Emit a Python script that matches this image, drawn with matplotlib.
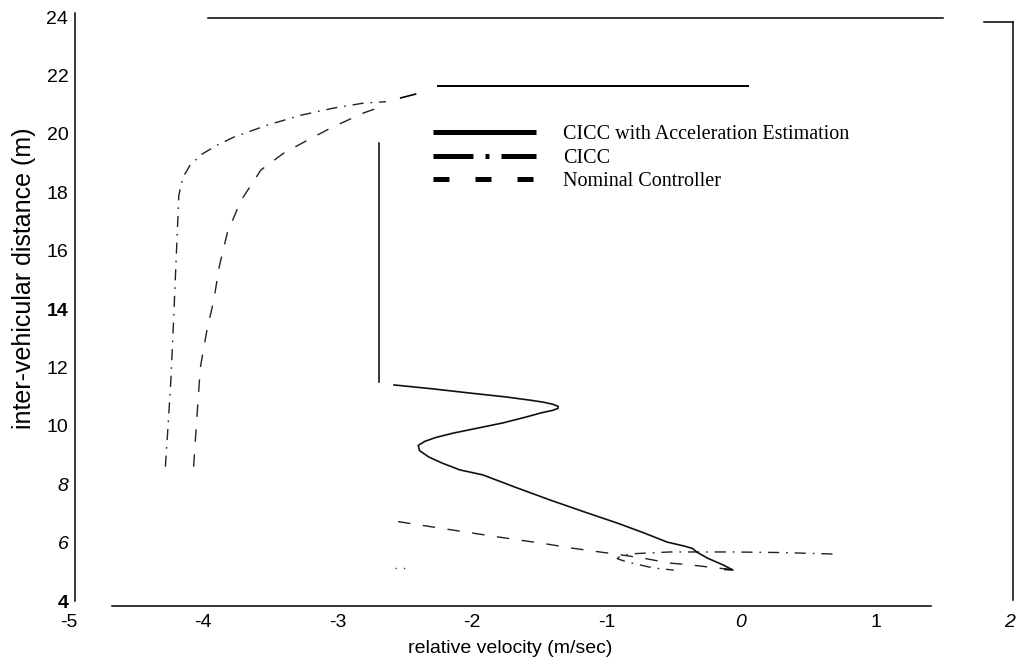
import matplotlib
matplotlib.use('Agg')
import matplotlib.pyplot as plt
from matplotlib.lines import Line2D

SANS = ['Liberation Sans', 'DejaVu Sans']
NARROW = ['Liberation Sans Narrow', 'Liberation Sans', 'DejaVu Sans']
SERIF = ['Liberation Serif', 'DejaVu Serif']

# phase-plane trajectories: relative velocity (m/sec) vs inter-vehicular distance (m)
acc_est_v = [-2.58, -2.30, -2.01, -1.75, -1.57, -1.47, -1.40, -1.36, -1.36, -1.40,
             -1.48, -1.60, -1.77, -1.96, -2.14, -2.27, -2.35, -2.40, -2.39, -2.32,
             -2.22, -2.09, -1.92, -1.68, -1.42, -1.17, -0.92, -0.72, -0.55, -0.42,
             -0.36, -0.33, -0.25, -0.13, -0.06, -0.12]
acc_est_d = [11.40, 11.27, 11.12, 10.99, 10.88, 10.81, 10.74, 10.67, 10.60, 10.53,
             10.45, 10.30, 10.10, 9.92, 9.75, 9.60, 9.47, 9.33, 9.15, 8.93,
             8.72, 8.49, 8.32, 7.90, 7.46, 7.06, 6.67, 6.33, 6.02, 5.88,
             5.80, 5.68, 5.47, 5.23, 5.06, 5.08]

cicc_v = [-4.28, -4.26, -4.24, -4.22, -4.20, -4.18, -4.15, -4.10, -4.02, -3.90,
          -3.77, -3.52, -3.27, -3.03, -2.81, -2.64]
cicc_d = [8.60, 10.0, 11.5, 13.5, 15.7, 17.9, 18.5, 18.9, 19.27, 19.60,
          19.89, 20.30, 20.64, 20.88, 21.05, 21.10]
cicc_tail_v = [0.68, 0.30, -0.06, -0.53, -0.80, -0.90, -0.92, -0.85, -0.65, -0.50]
cicc_tail_d = [5.61, 5.66, 5.68, 5.68, 5.62, 5.54, 5.45, 5.34, 5.13, 5.06]
cicc_frag_v = [-2.57, -2.50]
cicc_frag_d = [5.13, 5.13]

nominal_v = [-4.07, -4.05, -4.02, -3.97, -3.92, -3.88, -3.82, -3.72, -3.57, -3.40,
             -3.22, -3.05, -2.81, -2.66]
nominal_d = [8.60, 10.0, 12.0, 13.3, 14.3, 15.44, 16.6, 17.7, 18.76, 19.34,
             19.79, 20.20, 20.71, 20.95]
nominal_tail_v = [-2.55, -2.20, -1.80, -1.44, -1.27, -1.05, -0.92, -0.73, -0.53,
                  -0.36, -0.18, -0.06]
nominal_tail_d = [6.72, 6.47, 6.19, 5.95, 5.82, 5.68, 5.60, 5.47, 5.30,
                  5.23, 5.13, 5.08]

labels = ['CICC with Acceleration Estimation', 'CICC', 'Nominal Controller']

xticks = [-5, -4, -3, -2, -1, 0, 1, 2]
yticks = [4, 6, 8, 10, 12, 14, 16, 18, 20, 22, 24]

DASHDOT = (0, (8, 5, 1.2, 5))
DASHED = (0, (9, 9))

fig = plt.figure(figsize=(10.17, 6.65), dpi=100)
ax = fig.add_axes([0.0674, 0.0962, 0.9257, 0.8782])
ax.set_xlim(-5, 2)
ax.set_ylim(4, 24)

ax.plot(cicc_v, cicc_d, color='#222222', lw=1.0, ls=DASHDOT)
ax.plot(cicc_tail_v, cicc_tail_d, color='#222222', lw=1.0, ls=DASHDOT)
ax.plot(cicc_frag_v, cicc_frag_d, color='#444444', lw=1.0, ls=(0, (1, 5)))
ax.plot(nominal_v, nominal_d, color='#222222', lw=1.0, ls=DASHED)
ax.plot(nominal_tail_v, nominal_tail_d, color='#222222', lw=1.0, ls=DASHED)
ax.plot(acc_est_v, acc_est_d, color='#111111', lw=1.2)

# broken frame left over from the scanned figure
for side, pos, lo, hi in [('left', -4.95, 4.0, 24.15),
                          ('bottom', 3.83, -4.68, 1.41),
                          ('right', 2.02, 4.03, 23.83),
                          ('top', 23.97, -3.96, 1.50)]:
    sp = ax.spines[side]
    sp.set_position(('data', pos))
    sp.set_bounds(lo, hi)
    sp.set_linewidth(1.1)
    sp.set_clip_on(False)
ax.plot([1.81, 2.02], [23.83, 23.83], color='black', lw=1.1, clip_on=False)
# legend box edges
ax.plot([-2.695, -2.695], [11.5, 19.68], color='black', lw=1.1)
ax.plot([-2.25, 0.05], [21.64, 21.64], color='black', lw=1.4)
ax.plot([-2.53, -2.42], [21.23, 21.36], color='black', lw=1.2)

ax.set_xticks(xticks)
ax.set_xticklabels([str(t) for t in xticks])
ax.set_yticks(yticks)
ax.set_yticklabels([str(t) for t in yticks])
ax.tick_params(length=0)
ax.tick_params(axis='y', pad=5)
ax.tick_params(axis='x', pad=6)
for t in ax.get_xticklabels():
    t.set_family(NARROW)
    t.set_fontsize(14)
    if t.get_text() in ('0', '2'):
        t.set_style('italic')
for t in ax.get_yticklabels():
    t.set_family(SANS)
    t.set_fontsize(14)
    if t.get_text() in ('6', '8'):
        t.set_style('italic')
    if t.get_text() in ('4', '14'):
        t.set_fontweight('bold')

ax.set_xlabel('relative velocity (m/sec)', family=NARROW, fontsize=14)
ax.xaxis.set_label_coords(0.469, -0.067)
ax.set_ylabel('inter-vehicular distance (m)', family=NARROW, fontsize=18)
ax.yaxis.set_label_coords(-0.035, 0.553)

handles = [Line2D([], [], color='black', lw=3.6, solid_capstyle='butt'),
           Line2D([], [], color='black', lw=3.6, ls=(0, (8, 2.4, 0.8, 2.4)),
                  dash_capstyle='butt'),
           Line2D([], [], color='black', lw=3.6, ls=(0, (3.2, 5.2)),
                  dash_capstyle='butt')]
leg = ax.legend(handles, labels, loc='upper left', bbox_to_anchor=(0.376, 0.832),
                frameon=False, borderpad=0, handlelength=5.15, handletextpad=1.35,
                labelspacing=0.22, prop={'family': SERIF, 'size': 14.5})

fig.savefig('out.png', dpi=100)
